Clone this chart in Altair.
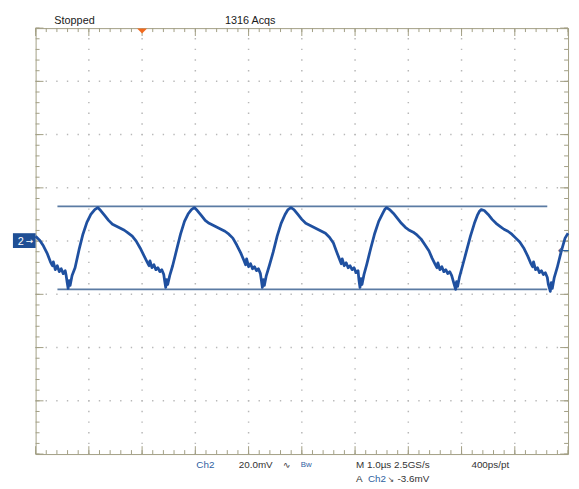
import altair as alt
import pandas as pd
import numpy as np

# ---- data (time in microseconds, Ch2 in mV) ----
cycle_0 = [(-2.000, 1.85), (-1.926, 0.37), (-1.852, -1.85), (-1.778, -4.81), (-1.722, -7.78),
           (-1.685, -9.26), (-1.667, -7.78), (-1.630, -10.74), (-1.593, -9.26), (-1.556, -11.48),
           (-1.519, -10.37), (-1.481, -12.22), (-1.444, -11.11), (-1.426, -12.96), (-1.407, -15.56),
           (-1.389, -17.78), (-1.370, -14.81), (-1.352, -16.67), (-1.315, -12.96), (-1.259, -10.0),
           (-1.185, -3.33), (-1.111, 2.59), (-1.037, 7.04), (-0.963, 10.0), (-0.889, 11.85),
           (-0.833, 12.59)]
cycle_1 = [(-0.778, 11.48), (-0.704, 9.63), (-0.630, 7.78), (-0.556, 6.30), (-0.481, 5.56),
           (-0.407, 4.81), (-0.333, 4.07), (-0.259, 2.96), (-0.185, 1.85), (-0.111, 0.0),
           (-0.037, -2.59), (0.037, -5.56), (0.093, -7.78), (0.130, -9.26), (0.148, -7.41),
           (0.185, -10.0), (0.222, -8.89), (0.259, -10.74), (0.296, -10.0), (0.333, -11.48),
           (0.370, -10.74), (0.407, -12.59), (0.426, -15.19), (0.444, -17.41), (0.463, -14.44),
           (0.481, -16.30), (0.519, -12.96), (0.574, -9.26), (0.648, -3.33), (0.722, 2.59),
           (0.796, 7.41), (0.870, 10.37), (0.926, 11.85), (0.981, 12.59)]
cycle_2 = [(1.037, 11.48), (1.111, 9.63), (1.185, 7.78), (1.259, 6.67), (1.333, 5.93),
           (1.407, 5.19), (1.481, 4.44), (1.556, 3.70), (1.630, 2.59), (1.704, 1.11),
           (1.778, -1.48), (1.852, -4.44), (1.907, -7.04), (1.944, -8.89), (1.963, -6.67),
           (2.000, -9.63), (2.037, -8.52), (2.074, -10.37), (2.111, -9.63), (2.148, -11.11),
           (2.185, -10.37), (2.222, -12.22), (2.241, -14.81), (2.259, -17.41), (2.278, -14.44),
           (2.296, -16.67), (2.333, -12.96), (2.389, -9.26), (2.463, -4.07), (2.537, 1.85),
           (2.611, 6.67), (2.685, 10.0), (2.741, 11.85), (2.796, 12.59)]
cycle_3 = [(2.852, 11.85), (2.926, 10.0), (3.000, 8.15), (3.074, 6.67), (3.148, 5.93),
           (3.222, 5.19), (3.296, 4.44), (3.370, 3.70), (3.444, 2.96), (3.519, 1.48),
           (3.593, -0.74), (3.648, -3.70), (3.704, -6.67), (3.741, -8.52), (3.759, -6.67),
           (3.796, -9.26), (3.833, -8.15), (3.870, -10.0), (3.907, -9.26), (3.944, -10.74),
           (3.981, -10.0), (4.019, -11.85), (4.056, -11.11), (4.074, -14.81), (4.093, -17.41),
           (4.111, -14.07), (4.130, -16.30), (4.167, -12.59), (4.222, -8.52), (4.296, -2.59),
           (4.370, 2.96), (4.444, 7.41), (4.519, 10.37), (4.556, 11.85), (4.593, 12.59)]
cycle_4 = [(4.648, 11.85), (4.722, 10.37), (4.796, 8.52), (4.870, 6.67), (4.944, 5.19),
           (5.019, 4.07), (5.093, 3.33), (5.167, 2.22), (5.241, 0.74), (5.315, -1.48),
           (5.389, -3.70), (5.444, -6.30), (5.500, -8.52), (5.537, -10.0), (5.556, -8.15),
           (5.593, -10.74), (5.630, -9.63), (5.667, -11.48), (5.704, -10.74), (5.741, -12.22),
           (5.778, -11.48), (5.815, -12.96), (5.852, -15.56), (5.889, -18.15), (5.907, -15.19),
           (5.926, -17.04), (5.963, -13.33), (6.019, -9.26), (6.093, -3.70), (6.167, 1.85),
           (6.241, 6.67), (6.296, 9.63), (6.333, 11.11), (6.370, 11.85)]
cycle_5 = [(6.426, 11.48), (6.500, 10.0), (6.574, 8.15), (6.648, 6.67), (6.722, 5.56),
           (6.796, 4.44), (6.870, 3.70), (6.944, 2.59), (7.019, 1.11), (7.093, -0.37),
           (7.167, -2.59), (7.241, -5.56), (7.296, -8.15), (7.333, -9.63), (7.352, -7.78),
           (7.389, -10.74), (7.426, -10.0), (7.463, -11.85), (7.500, -11.11), (7.537, -12.59),
           (7.574, -11.85), (7.611, -13.70), (7.630, -16.30), (7.667, -18.89), (7.685, -15.56),
           (7.704, -17.78), (7.741, -13.70), (7.796, -10.0), (7.870, -4.07), (7.944, 1.11),
           (8.000, 2.96)]

cursor_levels_mv = [13.0, -18.1]
cursor_t_start_us = -1.59
cursor_t_end_us = 7.61
trigger_time_us = 0.0
trigger_level_mv = -3.6

# screen: 10 horizontal divisions of 1.0 us, 8 vertical divisions of 20 mV
X_DOMAIN = [-2, 8]
Y_DOMAIN = [-80, 80]
W, H = 540, 432

GRID_COL = "#b8b8b8"
FRAME_COL = "#a29e84"
TRACE_COL = "#1f50a0"
CURSOR_COL = "#5b7ba3"
BLUE_TXT = "#2f5f9f"
DARK_TXT = "#333333"

xs = alt.Scale(domain=X_DOMAIN, nice=False, zero=False)
ys = alt.Scale(domain=Y_DOMAIN, nice=False, zero=False)

pts = cycle_0 + cycle_1 + cycle_2 + cycle_3 + cycle_4 + cycle_5
trace_df = pd.DataFrame(pts, columns=["t", "v"])
trace_df["i"] = np.arange(len(trace_df))

# graticule positions (divisions and 1/5 sub-divisions)
vgrid = pd.DataFrame({"t": np.arange(X_DOMAIN[0] + 1, X_DOMAIN[1], 1.0)})
hgrid = pd.DataFrame({"v": np.arange(Y_DOMAIN[0] + 20, Y_DOMAIN[1], 20.0)})
x_minor = pd.DataFrame({"t": np.round(np.arange(X_DOMAIN[0], X_DOMAIN[1] + 1e-9, 0.2), 3)})
x_major = pd.DataFrame({"t": np.arange(X_DOMAIN[0], X_DOMAIN[1] + 1e-9, 1.0)})
y_minor = pd.DataFrame({"v": np.round(np.arange(Y_DOMAIN[0], Y_DOMAIN[1] + 1e-9, 4.0), 3)})
y_major = pd.DataFrame({"v": np.arange(Y_DOMAIN[0], Y_DOMAIN[1] + 1e-9, 20.0)})

DOT = [1.4, 9.4]

layers = []

layers.append(alt.Chart(vgrid).mark_rule(color=GRID_COL, strokeWidth=1.5, strokeDash=DOT,
                                          strokeDashOffset=0.7).encode(
    x=alt.X("t:Q", scale=xs, axis=None), y=alt.value(0), y2=alt.value(H)))
layers.append(alt.Chart(hgrid).mark_rule(color=GRID_COL, strokeWidth=1.5, strokeDash=DOT,
                                          strokeDashOffset=0.7).encode(
    y=alt.Y("v:Q", scale=ys, axis=None), x=alt.value(0), x2=alt.value(W)))


def xticks(df, length):
    top = alt.Chart(df).mark_rule(color=FRAME_COL, strokeWidth=1).encode(
        x=alt.X("t:Q", scale=xs, axis=None), y=alt.value(0), y2=alt.value(length))
    bot = alt.Chart(df).mark_rule(color=FRAME_COL, strokeWidth=1).encode(
        x=alt.X("t:Q", scale=xs, axis=None), y=alt.value(H), y2=alt.value(H - length))
    return [top, bot]


def yticks(df, length):
    left = alt.Chart(df).mark_rule(color=FRAME_COL, strokeWidth=1).encode(
        y=alt.Y("v:Q", scale=ys, axis=None), x=alt.value(0), x2=alt.value(length))
    right = alt.Chart(df).mark_rule(color=FRAME_COL, strokeWidth=1).encode(
        y=alt.Y("v:Q", scale=ys, axis=None), x=alt.value(W), x2=alt.value(W - length))
    return [left, right]


layers += xticks(x_minor, 4) + xticks(x_major, 8) + yticks(y_minor, 4) + yticks(y_major, 8)

# cursors
cur_df = pd.DataFrame({"v": cursor_levels_mv, "t0": cursor_t_start_us, "t1": cursor_t_end_us})
layers.append(alt.Chart(cur_df).mark_rule(color=CURSOR_COL, strokeWidth=1.8).encode(
    x=alt.X("t0:Q", scale=xs, axis=None), x2="t1:Q", y=alt.Y("v:Q", scale=ys, axis=None)))

# waveform
layers.append(alt.Chart(trace_df).mark_line(color=TRACE_COL, strokeWidth=2.8,
                                             strokeJoin="round").encode(
    x=alt.X("t:Q", scale=xs, axis=None), y=alt.Y("v:Q", scale=ys, axis=None), order="i:Q"))

# trigger position marker (orange, top)
trig_df = pd.DataFrame({"t": [trigger_time_us]})
layers.append(alt.Chart(trig_df).mark_point(shape="M -1 -0.5 L 1 -0.5 L 0 0.5 Z", filled=True,
                                             size=100, color="#f26a1e", opacity=1).encode(
    x=alt.X("t:Q", scale=xs, axis=None), y=alt.value(3)))

# trigger level marker (right edge)
tl_df = pd.DataFrame({"v": [trigger_level_mv]})
layers.append(alt.Chart(tl_df).mark_text(text="\u2190", fontSize=14, color=BLUE_TXT,
                                          align="right", baseline="middle",
                                          font="DejaVu Sans").encode(
    y=alt.Y("v:Q", scale=ys, axis=None), x=alt.value(W + 1)))

# channel 2 ground marker (left)
one = pd.DataFrame({"a": [0]})
layers.append(alt.Chart(one).mark_rect(color="#1f4f95").encode(
    x=alt.value(-23), x2=alt.value(0), y=alt.value(208), y2=alt.value(223)))


def label(txt, x, y, color=DARK_TXT, size=10, font="Liberation Sans", align="left"):
    return alt.Chart(one).mark_text(text=txt, fontSize=size, color=color, font=font,
                                    align=align, baseline="alphabetic").encode(
        x=alt.value(x), y=alt.value(y))


layers.append(label("2", -18, 220, color="white", size=11))
layers.append(label("\u2192", -10, 219, color="white", size=9, font="DejaVu Sans"))

# status text
layers.append(label("Stopped", 19, -4, color="#1a1a1a", size=11))
layers.append(label("1316 Acqs", 192, -4, color="#1a1a1a", size=11))

# readouts
layers.append(label("Ch2", 163, 446, color=BLUE_TXT))
layers.append(label("20.0mV", 206, 446))
layers.append(label("\u223f", 251, 446, size=9, font="DejaVu Sans"))
layers.append(label("Bw", 269, 445, color=BLUE_TXT, size=8))
layers.append(label("M 1.0\u00b5s 2.5GS/s", 325, 446))
layers.append(label("400ps/pt", 442, 446))
layers.append(label("A", 325, 460))
layers.append(label("Ch2", 337, 460, color=BLUE_TXT))
layers.append(label("\u2198", 357, 460, size=8, font="DejaVu Sans"))
layers.append(label("-3.6mV", 367, 460))

chart = alt.layer(*layers).properties(
    width=W, height=H,
    autosize=alt.AutoSizeParams(type="none"),
    padding={"left": 28, "top": 17, "right": 3, "bottom": 30},
    background="white",
).configure_view(stroke=FRAME_COL, strokeWidth=1)

chart.save("out.html", embed_options={"renderer": "svg", "actions": False})
